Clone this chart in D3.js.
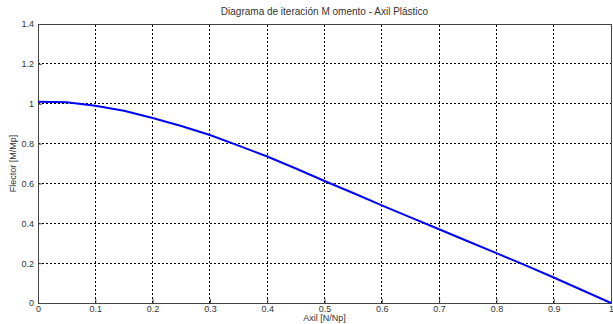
<!DOCTYPE html>
<html>
<head>
<meta charset="utf-8">
<script src="https://cdn.jsdelivr.net/npm/d3@7"></script>
<style>
  body { margin: 0; background: #fff; }
  text { font-family: "Liberation Sans", Arial, sans-serif; fill: #333; }
</style>
</head>
<body>
<script>
const margin = {top: 24, right: 2, bottom: 21, left: 38}
, width = 613 - margin.left - margin.right
, height = 324 - margin.top - margin.bottom

// data
const axil = [0, 0.05, 0.1, 0.15, 0.2, 0.25, 0.3, 0.35, 0.4, 0.45, 0.5,
              0.55, 0.6, 0.65, 0.7, 0.75, 0.8, 0.85, 0.9, 0.95, 1]
const flector = [1.01, 1.007, 0.99, 0.965, 0.928, 0.888, 0.843, 0.79, 0.735, 0.675, 0.612,
                 0.552, 0.49, 0.43, 0.37, 0.31, 0.25, 0.19, 0.128, 0.064, 0]
const xTicks = [0, 0.1, 0.2, 0.3, 0.4, 0.5, 0.6, 0.7, 0.8, 0.9, 1]
const yTicks = [0, 0.2, 0.4, 0.6, 0.8, 1, 1.2, 1.4]

const svg = d3.select('body').append('svg')
    .attr('width', 613)
    .attr('height', 324)

const xScale = d3.scaleLinear().domain([0, 1]).range([margin.left, margin.left + width])
const yScale = d3.scaleLinear().domain([0, 1.4]).range([margin.top + height, margin.top])

// grid lines
svg.append('g').selectAll('line').data(xTicks.slice(1, -1))
    .enter().append('line')
    .attr('x1', d => xScale(d)).attr('x2', d => xScale(d))
    .attr('y1', yScale(0)).attr('y2', yScale(1.4))
    .attr('stroke', '#000').attr('stroke-width', 1)
    .attr('stroke-dasharray', '2,2')
    .attr('shape-rendering', 'crispEdges')

svg.append('g').selectAll('line').data(yTicks.slice(1, -1))
    .enter().append('line')
    .attr('x1', xScale(0)).attr('x2', xScale(1))
    .attr('y1', d => yScale(d)).attr('y2', d => yScale(d))
    .attr('stroke', '#000').attr('stroke-width', 1)
    .attr('stroke-dasharray', '2,2')
    .attr('shape-rendering', 'crispEdges')

// axes, ticks inside like matlab
const xAxis = svg.append('g')
    .attr('transform', 'translate(0,' + yScale(0) + ')')
    .call(d3.axisBottom(xScale).tickValues(xTicks).tickSizeInner(-4).tickSizeOuter(0)
        .tickPadding(3).tickFormat(d3.format('')))
const yAxis = svg.append('g')
    .attr('transform', 'translate(' + xScale(0) + ',0)')
    .call(d3.axisLeft(yScale).tickValues(yTicks).tickSizeInner(-4).tickSizeOuter(0)
        .tickPadding(4).tickFormat(d3.format('')))

svg.selectAll('.domain').attr('stroke', '#444').attr('shape-rendering', 'crispEdges')
svg.selectAll('.tick line').attr('stroke', '#444')
svg.selectAll('.tick text').style('font-size', '9px').attr('fill', '#333')

// box top and right
svg.append('line')
    .attr('x1', xScale(0)).attr('x2', xScale(1))
    .attr('y1', yScale(1.4)).attr('y2', yScale(1.4))
    .attr('stroke', '#444').attr('shape-rendering', 'crispEdges')
svg.append('line')
    .attr('x1', xScale(1)).attr('x2', xScale(1))
    .attr('y1', yScale(0)).attr('y2', yScale(1.4))
    .attr('stroke', '#444').attr('shape-rendering', 'crispEdges')

// curve
const line = d3.line()
    .x((d, i) => xScale(axil[i]))
    .y(d => yScale(d))

svg.append('path')
    .datum(flector)
    .attr('d', line)
    .attr('fill', 'none')
    .attr('stroke', '#0000ff')
    .attr('stroke-width', 2)

// labels
svg.append('text')
    .attr('x', xScale(0.5)).attr('y', 15)
    .attr('text-anchor', 'middle')
    .style('font-size', '10px')
    .text('Diagrama de iteración M omento - Axil Plástico')

svg.append('text')
    .attr('x', xScale(0.5)).attr('y', 321)
    .attr('text-anchor', 'middle')
    .style('font-size', '9px')
    .text('Axil [N/Np]')

svg.append('text')
    .attr('transform', 'translate(16,' + yScale(0.7) + ') rotate(-90)')
    .attr('text-anchor', 'middle')
    .style('font-size', '9px')
    .text('Flector [M/Mp]')
</script>
</body>
</html>
